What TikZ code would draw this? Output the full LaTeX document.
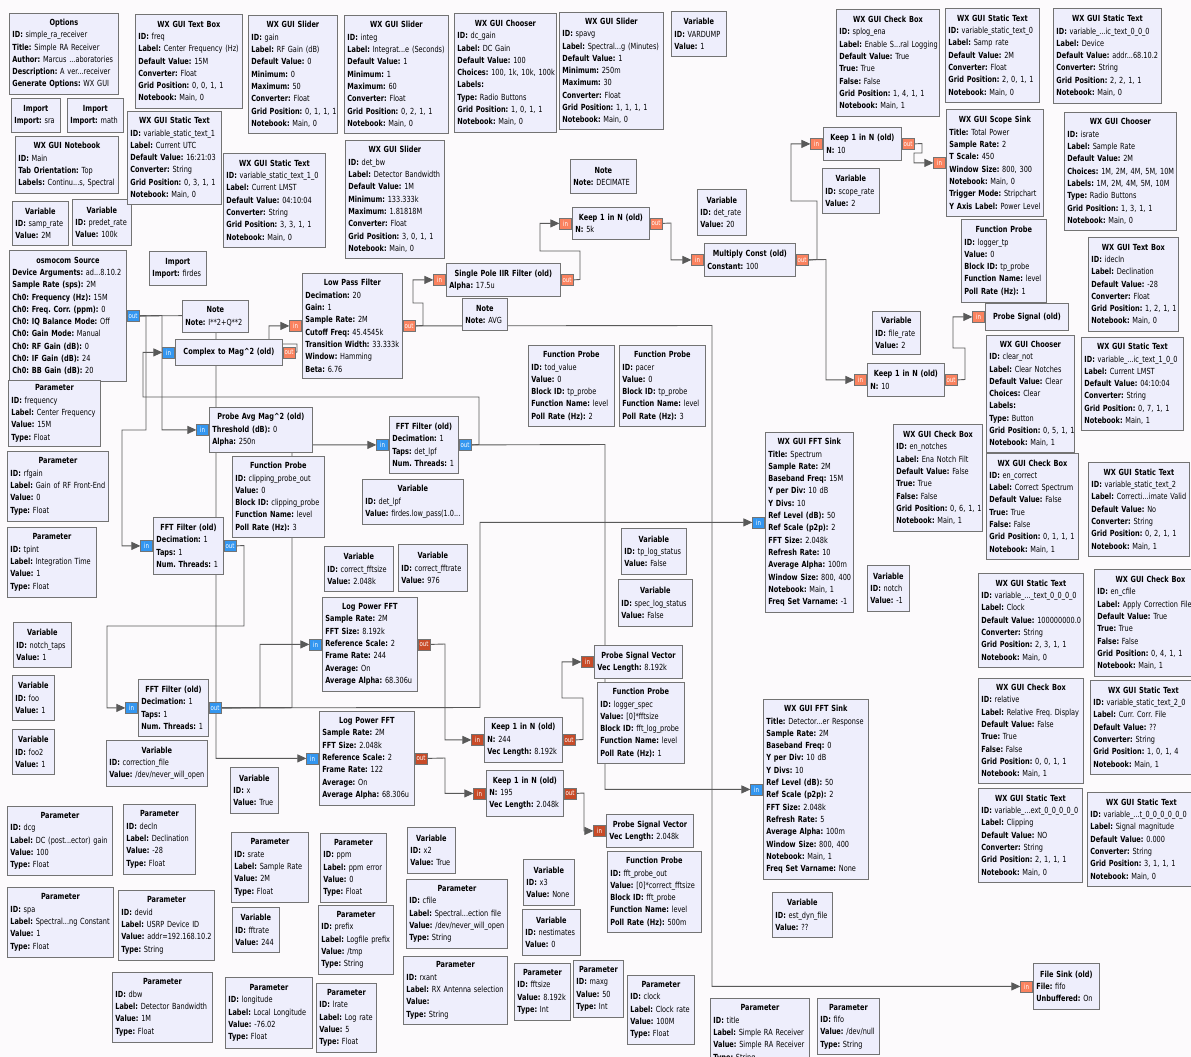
\documentclass[tikz,border=0pt]{standalone}
\usepackage{fontspec}
\newfontfamily\grcfont{DejaVu Sans}[FakeStretch=0.78]
\usetikzlibrary{positioning,arrows.meta,backgrounds}
\definecolor{canvas}{RGB}{252,250,252}
\definecolor{blkfill}{RGB}{238,238,252}
\definecolor{cplx}{RGB}{51,150,240}
\definecolor{flt}{RGB}{250,130,95}
\definecolor{vflt}{RGB}{200,75,40}
\newcommand{\hd}[1]{\leavevmode\hbox to\hsize{\hfil\textbf{#1}\hfil}}
\newcommand{\kv}[2]{\mbox{\textbf{#1:} #2}}

\begin{document}
\begin{tikzpicture}[x=1pt, y=-1pt,
    blk/.style 2 args={draw=black!55, fill=blkfill, line width=0.8pt, anchor=north west, align=left, inner xsep=3pt, inner ysep=3pt,
      minimum width=#1, minimum height=#2, text width=#1-6, font=\grcfont\fontsize{8.4}{12.3}\selectfont\frenchspacing},
    port/.style={draw=black!55, line width=0.6pt, inner sep=0pt, minimum height=11pt, minimum width=12pt,
      text=white, font=\grcfont\fontsize{7}{8}\selectfont},
    cp/.style={port, fill=cplx}, fp/.style={port, fill=flt}, vp/.style={port, fill=vflt},
    conn/.style={-{Triangle[length=9pt,width=8pt]}, draw=black!65, line width=0.9pt}
  ]
  \useasboundingbox (0,0) rectangle (1191,1057);

  % top left
  \node[blk={109}{81}] (opts) at (9,13) {\hd{Options}\\ \kv{ID}{simple\_ra\_receiver}\\ \kv{Title}{Simple RA Receiver}\\ \kv{Author}{Marcus ...aboratories}\\ \kv{Description}{A ver...receiver}\\ \kv{Generate Options}{WX GUI}};
  \node[blk={49}{34}] (imp1) at (11,98) {\hd{Import}\\ \kv{Import}{sra}};
  \node[blk={56}{34}] (imp2) at (67,98) {\hd{Import}\\ \kv{Import}{math}};
  \node[blk={103}{57}] (nb) at (15,136) {\hd{WX GUI Notebook}\\ \kv{ID}{Main}\\ \kv{Tab Orientation}{Top}\\ \kv{Labels}{Continu...s, Spectral}};
  \node[blk={56}{44}] (vsamp) at (12,201) {\hd{Variable}\\ \kv{ID}{samp\_rate}\\ \kv{Value}{2M}};
  \node[blk={59}{46}] (vpredet) at (72,199) {\hd{Variable}\\ \kv{ID}{predet\_rate}\\ \kv{Value}{100k}};
  \node[blk={117}{131}] (src) at (9,250) {\hd{osmocom Source}\\ \kv{Device Arguments}{ad...8.10.2}\\ \kv{Sample Rate (sps)}{2M}\\ \kv{Ch0: Frequency (Hz)}{15M}\\ \kv{Ch0: Freq. Corr. (ppm)}{0}\\ \kv{Ch0: IQ Balance Mode}{Off}\\ \kv{Ch0: Gain Mode}{Manual}\\ \kv{Ch0: RF Gain (dB)}{0}\\ \kv{Ch0: IF Gain (dB)}{24}\\ \kv{Ch0: BB Gain (dB)}{20}};
  \node[blk={107}{94}] (tbfreq) at (135,14) {\hd{WX GUI Text Box}\\ \kv{ID}{freq}\\ \kv{Label}{Center Frequency (Hz)}\\ \kv{Default Value}{15M}\\ \kv{Converter}{Float}\\ \kv{Grid Position}{0, 0, 1, 1}\\ \kv{Notebook}{Main, 0}};
  \node[blk={94}{93}] (st1) at (127,111) {\hd{WX GUI Static Text}\\ \kv{ID}{variable\_static\_text\_1}\\ \kv{Label}{Current UTC}\\ \kv{Default Value}{16:21:03}\\ \kv{Converter}{String}\\ \kv{Grid Position}{0, 3, 1, 1}\\ \kv{Notebook}{Main, 0}};
  \node[blk={89}{118}] (slgain) at (248,15) {\hd{WX GUI Slider}\\ \kv{ID}{gain}\\ \kv{Label}{RF Gain (dB)}\\ \kv{Default Value}{0}\\ \kv{Minimum}{0}\\ \kv{Maximum}{50}\\ \kv{Converter}{Float}\\ \kv{Grid Position}{0, 1, 1, 1}\\ \kv{Notebook}{Main, 0}};
  \node[blk={102}{94}] (st10) at (223,153) {\hd{WX GUI Static Text}\\ \kv{ID}{variable\_static\_text\_1\_0}\\ \kv{Label}{Current LMST}\\ \kv{Default Value}{04:10:04}\\ \kv{Converter}{String}\\ \kv{Grid Position}{3, 3, 1, 1}\\ \kv{Notebook}{Main, 0}};
  \node[blk={57}{34}] (impf) at (149,251) {\hd{Import}\\ \kv{Import}{firdes}};
  \node[blk={66}{32}] (note1) at (182,300) {\hd{Note}\\ \kv{Note}{I**2+Q**2}};
  \node[blk={107}{26}] (c2m) at (175,339) {\hd{Complex to Mag\textasciicircum 2 (old)}};

  % top middle
  \node[blk={104}{118}] (slinteg) at (344,15) {\hd{WX GUI Slider}\\ \kv{ID}{integ}\\ \kv{Label}{Integrat...e (Seconds)}\\ \kv{Default Value}{1}\\ \kv{Minimum}{1}\\ \kv{Maximum}{60}\\ \kv{Converter}{Float}\\ \kv{Grid Position}{0, 2, 1, 1}\\ \kv{Notebook}{Main, 0}};
  \node[blk={102}{119}] (chdc) at (454,13) {\hd{WX GUI Chooser}\\ \kv{ID}{dc\_gain}\\ \kv{Label}{DC Gain}\\ \kv{Default Value}{100}\\ \kv{Choices}{100, 1k, 10k, 100k}\\ \kv{Labels}{}\\ \kv{Type}{Radio Buttons}\\ \kv{Grid Position}{1, 0, 1, 1}\\ \kv{Notebook}{Main, 0}};
  \node[blk={104}{117}] (slspavg) at (559,12) {\hd{WX GUI Slider}\\ \kv{ID}{spavg}\\ \kv{Label}{Spectral...g (Minutes)}\\ \kv{Default Value}{1}\\ \kv{Minimum}{250m}\\ \kv{Maximum}{30}\\ \kv{Converter}{Float}\\ \kv{Grid Position}{1, 1, 1, 1}\\ \kv{Notebook}{Main, 0}};
  \node[blk={99}{118}] (sldetbw) at (345,140) {\hd{WX GUI Slider}\\ \kv{ID}{det\_bw}\\ \kv{Label}{Detector Bandwidth}\\ \kv{Default Value}{1M}\\ \kv{Minimum}{133.333k}\\ \kv{Maximum}{1.81818M}\\ \kv{Converter}{Float}\\ \kv{Grid Position}{3, 0, 1, 1}\\ \kv{Notebook}{Main, 0}};
  \node[blk={100}{105}] (lpf) at (302,273) {\hd{Low Pass Filter}\\ \kv{Decimation}{20}\\ \kv{Gain}{1}\\ \kv{Sample Rate}{2M}\\ \kv{Cutoff Freq}{45.4545k}\\ \kv{Transition Width}{33.333k}\\ \kv{Window}{Hamming}\\ \kv{Beta}{6.76}};
  \node[blk={114}{33}] (iir) at (446,263) {\hd{Single Pole IIR Filter (old)}\\ \kv{Alpha}{17.5u}};
  \node[blk={45}{32}] (noteavg) at (462,298) {\hd{Note}\\ \kv{Note}{AVG}};
  \node[blk={66}{34}] (notedec) at (570,159) {\hd{Note}\\ \kv{Note}{DECIMATE}};
  \node[blk={77}{32}] (keep5k) at (572,207) {\hd{Keep 1 in N (old)}\\ \kv{N}{5k}};
  \node[blk={55}{45}] (vvardump) at (671,11) {\hd{Variable}\\ \kv{ID}{VARDUMP}\\ \kv{Value}{1}};
  \node[blk={49}{46}] (vdetrate) at (697,189) {\hd{Variable}\\ \kv{ID}{det\_rate}\\ \kv{Value}{20}};
  \node[blk={91}{33}] (mult) at (704,243) {\hd{Multiply Const (old)}\\ \kv{Constant}{100}};
  \node[blk={78}{33}] (keepup) at (823,127) {\hd{Keep 1 in N (old)}\\ \kv{N}{10}};
  \node[blk={57}{45}] (vscope) at (822,168) {\hd{Variable}\\ \kv{ID}{scope\_rate}\\ \kv{Value}{2}};

  % top right
  \node[blk={103}{107}] (cbsplog) at (836,9) {\hd{WX GUI Check Box}\\ \kv{ID}{splog\_ena}\\ \kv{Label}{Enable S...ral Logging}\\ \kv{Default Value}{True}\\ \kv{True}{True}\\ \kv{False}{False}\\ \kv{Grid Position}{1, 4, 1, 1}\\ \kv{Notebook}{Main, 1}};
  \node[blk={94}{94}] (st0) at (945,8) {\hd{WX GUI Static Text}\\ \kv{ID}{variable\_static\_text\_0}\\ \kv{Label}{Samp rate}\\ \kv{Default Value}{2M}\\ \kv{Converter}{Float}\\ \kv{Grid Position}{2, 0, 1, 1}\\ \kv{Notebook}{Main, 0}};
  \node[blk={108}{95}] (st000) at (1053,8) {\hd{WX GUI Static Text}\\ \kv{ID}{variable\_...ic\_text\_0\_0\_0}\\ \kv{Label}{Device}\\ \kv{Default Value}{addr...68.10.2}\\ \kv{Converter}{String}\\ \kv{Grid Position}{2, 2, 1, 1}\\ \kv{Notebook}{Main, 0}};
  \node[blk={97}{107}] (scope) at (946,109) {\hd{WX GUI Scope Sink}\\ \kv{Title}{Total Power}\\ \kv{Sample Rate}{2}\\ \kv{T Scale}{450}\\ \kv{Window Size}{800, 300}\\ \kv{Notebook}{Main, 0}\\ \kv{Trigger Mode}{Stripchart}\\ \kv{Y Axis Label}{Power Level}};
  \node[blk={112}{118}] (chisrate) at (1064,112) {\hd{WX GUI Chooser}\\ \kv{ID}{israte}\\ \kv{Label}{Sample Rate}\\ \kv{Default Value}{2M}\\ \kv{Choices}{1M, 2M, 4M, 5M, 10M}\\ \kv{Labels}{1M, 2M, 4M, 5M, 10M}\\ \kv{Type}{Radio Buttons}\\ \kv{Grid Position}{1, 3, 1, 1}\\ \kv{Notebook}{Main, 0}};
  \node[blk={85}{83}] (fploggertp) at (961,219) {\hd{Function Probe}\\ \kv{ID}{logger\_tp}\\ \kv{Value}{0}\\ \kv{Block ID}{tp\_probe}\\ \kv{Function Name}{level}\\ \kv{Poll Rate (Hz)}{1}};
  \node[blk={90}{94}] (tbdecln) at (1088,237) {\hd{WX GUI Text Box}\\ \kv{ID}{idecln}\\ \kv{Label}{Declination}\\ \kv{Default Value}{-28}\\ \kv{Converter}{Float}\\ \kv{Grid Position}{1, 2, 1, 1}\\ \kv{Notebook}{Main, 0}};
  \node[blk={48}{43}] (vfilerate) at (872,311) {\hd{Variable}\\ \kv{ID}{file\_rate}\\ \kv{Value}{2}};
  \node[blk={83}{27}] (psig) at (985,303) {\hd{Probe Signal (old)}};
  \node[blk={88}{117}] (chclear) at (986,335) {\hd{WX GUI Chooser}\\ \kv{ID}{clear\_not}\\ \kv{Label}{Clear Notches}\\ \kv{Default Value}{Clear}\\ \kv{Choices}{Clear}\\ \kv{Labels}{}\\ \kv{Type}{Button}\\ \kv{Grid Position}{0, 5, 1, 1}\\ \kv{Notebook}{Main, 1}};
  \node[blk={102}{93}] (st100) at (1081,337) {\hd{WX GUI Static Text}\\ \kv{ID}{variable\_...ic\_text\_1\_0\_0}\\ \kv{Label}{Current LMST}\\ \kv{Default Value}{04:10:04}\\ \kv{Converter}{String}\\ \kv{Grid Position}{0, 7, 1, 1}\\ \kv{Notebook}{Main, 1}};
  \node[blk={77}{33}] (keeplo) at (867,363) {\hd{Keep 1 in N (old)}\\ \kv{N}{10}};

  % middle
  \node[blk={86}{81}] (fptod) at (528,345) {\hd{Function Probe}\\ \kv{ID}{tod\_value}\\ \kv{Value}{0}\\ \kv{Block ID}{tp\_probe}\\ \kv{Function Name}{level}\\ \kv{Poll Rate (Hz)}{2}};
  \node[blk={86}{81}] (fppacer) at (619,345) {\hd{Function Probe}\\ \kv{ID}{pacer}\\ \kv{Value}{0}\\ \kv{Block ID}{tp\_probe}\\ \kv{Function Name}{level}\\ \kv{Poll Rate (Hz)}{3}};
  \node[blk={89}{107}] (cbnotch) at (893,424) {\hd{WX GUI Check Box}\\ \kv{ID}{en\_notches}\\ \kv{Label}{Ena Notch Filt}\\ \kv{Default Value}{False}\\ \kv{True}{True}\\ \kv{False}{False}\\ \kv{Grid Position}{0, 6, 1, 1}\\ \kv{Notebook}{Main, 1}};
  \node[blk={92}{106}] (cbcorr) at (986,453) {\hd{WX GUI Check Box}\\ \kv{ID}{en\_correct}\\ \kv{Label}{Correct Spectrum}\\ \kv{Default Value}{False}\\ \kv{True}{True}\\ \kv{False}{False}\\ \kv{Grid Position}{0, 1, 1, 1}\\ \kv{Notebook}{Main, 1}};
  \node[blk={101}{94}] (st2) at (1088,462) {\hd{WX GUI Static Text}\\ \kv{ID}{variable\_static\_text\_2}\\ \kv{Label}{Correcti...imate Valid}\\ \kv{Default Value}{No}\\ \kv{Converter}{String}\\ \kv{Grid Position}{0, 2, 1, 1}\\ \kv{Notebook}{Main, 1}};
  \node[blk={42}{46}] (vnotch) at (867,565) {\hd{Variable}\\ \kv{ID}{notch}\\ \kv{Value}{-1}};
  \node[blk={105}{94}] (st0000) at (978,573) {\hd{WX GUI Static Text}\\ \kv{ID}{variable\_...\_text\_0\_0\_0\_0}\\ \kv{Label}{Clock}\\ \kv{Default Value}{100000000.0}\\ \kv{Converter}{String}\\ \kv{Grid Position}{2, 3, 1, 1}\\ \kv{Notebook}{Main, 0}};
  \node[blk={112}{107}] (cbcfile) at (1094,569) {\hd{WX GUI Check Box}\\ \kv{ID}{en\_cfile}\\ \kv{Label}{Apply Correction File}\\ \kv{Default Value}{True}\\ \kv{True}{True}\\ \kv{False}{False}\\ \kv{Grid Position}{0, 4, 1, 1}\\ \kv{Notebook}{Main, 1}};
  \node[blk={105}{105}] (cbrel) at (978,678) {\hd{WX GUI Check Box}\\ \kv{ID}{relative}\\ \kv{Label}{Relative Freq. Display}\\ \kv{Default Value}{False}\\ \kv{True}{True}\\ \kv{False}{False}\\ \kv{Grid Position}{0, 0, 1, 1}\\ \kv{Notebook}{Main, 1}};
  \node[blk={106}{94}] (st20) at (1090,680) {\hd{WX GUI Static Text}\\ \kv{ID}{variable\_static\_text\_2\_0}\\ \kv{Label}{Curr. Corr. File}\\ \kv{Default Value}{??}\\ \kv{Converter}{String}\\ \kv{Grid Position}{1, 0, 1, 4}\\ \kv{Notebook}{Main, 1}};
  \node[blk={104}{94}] (stclip) at (978,788) {\hd{WX GUI Static Text}\\ \kv{ID}{variable\_...ext\_0\_0\_0\_0\_0}\\ \kv{Label}{Clipping}\\ \kv{Default Value}{NO}\\ \kv{Converter}{String}\\ \kv{Grid Position}{2, 1, 1, 1}\\ \kv{Notebook}{Main, 0}};
  \node[blk={108}{94}] (stsig) at (1087,792) {\hd{WX GUI Static Text}\\ \kv{ID}{variable\_...t\_0\_0\_0\_0\_0\_0}\\ \kv{Label}{Signal magnitude}\\ \kv{Default Value}{0.000}\\ \kv{Converter}{String}\\ \kv{Grid Position}{3, 1, 1, 1}\\ \kv{Notebook}{Main, 0}};
  \node[blk={66}{46}] (fsink) at (1033,963) {\hd{File Sink (old)}\\ \kv{File}{fifo}\\ \kv{Unbuffered}{On}};

  % left column
  \node[blk={92}{66}] (pfreq) at (8,380) {\hd{Parameter}\\ \kv{ID}{frequency}\\ \kv{Label}{Center Frequency}\\ \kv{Value}{15M}\\ \kv{Type}{Float}};
  \node[blk={101}{70}] (prf) at (7,451) {\hd{Parameter}\\ \kv{ID}{rfgain}\\ \kv{Label}{Gain of RF Front-End}\\ \kv{Value}{0}\\ \kv{Type}{Float}};
  \node[blk={89}{70}] (ptpint) at (7,527) {\hd{Parameter}\\ \kv{ID}{tpint}\\ \kv{Label}{Integration Time}\\ \kv{Value}{1}\\ \kv{Type}{Float}};
  \node[blk={58}{45}] (vnotchtaps) at (13,622) {\hd{Variable}\\ \kv{ID}{notch\_taps}\\ \kv{Value}{1}};
  \node[blk={42}{45}] (vfoo) at (12,675) {\hd{Variable}\\ \kv{ID}{foo}\\ \kv{Value}{1}};
  \node[blk={42}{45}] (vfoo2) at (12,729) {\hd{Variable}\\ \kv{ID}{foo2}\\ \kv{Value}{1}};

  % signal chain
  \node[blk={103}{45}] (pavg) at (209,407) {\hd{Probe Avg Mag\textasciicircum 2 (old)}\\ \kv{Threshold (dB)}{0}\\ \kv{Alpha}{250n}};
  \node[blk={92}{81}] (fpclip) at (232,456) {\hd{Function Probe}\\ \kv{ID}{clipping\_probe\_out}\\ \kv{Value}{0}\\ \kv{Block ID}{clipping\_probe}\\ \kv{Function Name}{level}\\ \kv{Poll Rate (Hz)}{3}};
  \node[blk={70}{57}] (fft1) at (153,517) {\hd{FFT Filter (old)}\\ \kv{Decimation}{1}\\ \kv{Taps}{1}\\ \kv{Num. Threads}{1}};
  \node[blk={70}{57}] (fft2) at (138,679) {\hd{FFT Filter (old)}\\ \kv{Decimation}{1}\\ \kv{Taps}{1}\\ \kv{Num. Threads}{1}};
  \node[blk={69}{57}] (fftdet) at (389,416) {\hd{FFT Filter (old)}\\ \kv{Decimation}{1}\\ \kv{Taps}{det\_lpf}\\ \kv{Num. Threads}{1}};
  \node[blk={101}{45}] (vdetlpf) at (362,479) {\hd{Variable}\\ \kv{ID}{det\_lpf}\\ \kv{Value}{firdes.low\_pass(1.0...}};
  \node[blk={69}{45}] (vcfs) at (324,546) {\hd{Variable}\\ \kv{ID}{correct\_fftsize}\\ \kv{Value}{2.048k}};
  \node[blk={69}{47}] (vcfr) at (398,544) {\hd{Variable}\\ \kv{ID}{correct\_fftrate}\\ \kv{Value}{976}};
  \node[blk={95}{94}] (lpfft1) at (322,597) {\hd{Log Power FFT}\\ \kv{Sample Rate}{2M}\\ \kv{FFT Size}{8.192k}\\ \kv{Reference Scale}{2}\\ \kv{Frame Rate}{244}\\ \kv{Average}{On}\\ \kv{Average Alpha}{68.306u}};
  \node[blk={88}{180}] (fftspec) at (765,432) {\hd{WX GUI FFT Sink}\\ \kv{Title}{Spectrum}\\ \kv{Sample Rate}{2M}\\ \kv{Baseband Freq}{15M}\\ \kv{Y per Div}{10 dB}\\ \kv{Y Divs}{10}\\ \kv{Ref Level (dB)}{50}\\ \kv{Ref Scale (p2p)}{2}\\ \kv{FFT Size}{2.048k}\\ \kv{Refresh Rate}{10}\\ \kv{Average Alpha}{100m}\\ \kv{Window Size}{800, 400}\\ \kv{Notebook}{Main, 1}\\ \kv{Freq Set Varname}{-1}};
  \node[blk={65}{46}] (vtplog) at (621,528) {\hd{Variable}\\ \kv{ID}{tp\_log\_status}\\ \kv{Value}{False}};
  \node[blk={74}{47}] (vspeclog) at (618,579) {\hd{Variable}\\ \kv{ID}{spec\_log\_status}\\ \kv{Value}{False}};
  \node[blk={88}{33}] (psv1) at (594,645) {\hd{Probe Signal Vector}\\ \kv{Vec Length}{8.192k}};
  \node[blk={87}{81}] (fplogspec) at (597,682) {\hd{Function Probe}\\ \kv{ID}{logger\_spec}\\ \kv{Value}{[0]*fftsize}\\ \kv{Block ID}{fft\_log\_probe}\\ \kv{Function Name}{level}\\ \kv{Poll Rate (Hz)}{1}};
  \node[blk={95}{94}] (lpfft2) at (319,711) {\hd{Log Power FFT}\\ \kv{Sample Rate}{2M}\\ \kv{FFT Size}{2.048k}\\ \kv{Reference Scale}{2}\\ \kv{Frame Rate}{122}\\ \kv{Average}{On}\\ \kv{Average Alpha}{68.306u}};
  \node[blk={78}{45}] (keep244) at (484,717) {\hd{Keep 1 in N (old)}\\ \kv{N}{244}\\ \kv{Vec Length}{8.192k}};
  \node[blk={77}{46}] (keep195) at (486,770) {\hd{Keep 1 in N (old)}\\ \kv{N}{195}\\ \kv{Vec Length}{2.048k}};
  \node[blk={87}{33}] (psv2) at (606,814) {\hd{Probe Signal Vector}\\ \kv{Vec Length}{2.048k}};
  \node[blk={94}{81}] (fpfft) at (607,851) {\hd{Function Probe}\\ \kv{ID}{fft\_probe\_out}\\ \kv{Value}{[0]*correct\_fftsize}\\ \kv{Block ID}{fft\_probe}\\ \kv{Function Name}{level}\\ \kv{Poll Rate (Hz)}{500m}};
  \node[blk={105}{180}] (fftdetsink) at (763,699) {\hd{WX GUI FFT Sink}\\ \kv{Title}{Detector...er Response}\\ \kv{Sample Rate}{2M}\\ \kv{Baseband Freq}{0}\\ \kv{Y per Div}{10 dB}\\ \kv{Y Divs}{10}\\ \kv{Ref Level (dB)}{50}\\ \kv{Ref Scale (p2p)}{2}\\ \kv{FFT Size}{2.048k}\\ \kv{Refresh Rate}{5}\\ \kv{Average Alpha}{100m}\\ \kv{Window Size}{800, 400}\\ \kv{Notebook}{Main, 1}\\ \kv{Freq Set Varname}{None}};
  \node[blk={60}{45}] (vestdyn) at (772,892) {\hd{Variable}\\ \kv{ID}{est\_dyn\_file}\\ \kv{Value}{??}};

  % bottom
  \node[blk={67}{69}] (pclock) at (627,975) {\hd{Parameter}\\ \kv{ID}{clock}\\ \kv{Label}{Clock rate}\\ \kv{Value}{100M}\\ \kv{Type}{Float}};
  \node[blk={99}{70}] (ptitle) at (710,998) {\hd{Parameter}\\ \kv{ID}{title}\\ \kv{Label}{Simple RA Receiver}\\ \kv{Value}{Simple RA Receiver}\\ \kv{Type}{String}};
  \node[blk={62}{56}] (pfifo) at (817,998) {\hd{Parameter}\\ \kv{ID}{fifo}\\ \kv{Value}{/dev/null}\\ \kv{Type}{String}};
  \node[blk={50}{57}] (pmaxg) at (573,960) {\hd{Parameter}\\ \kv{ID}{maxg}\\ \kv{Value}{50}\\ \kv{Type}{Int}};
  \node[blk={56}{57}] (pfftsize) at (514,963) {\hd{Parameter}\\ \kv{ID}{fftsize}\\ \kv{Value}{8.192k}\\ \kv{Type}{Int}};
  \node[blk={51}{46}] (vx3) at (523,859) {\hd{Variable}\\ \kv{ID}{x3}\\ \kv{Value}{None}};
  \node[blk={58}{46}] (vnest) at (522,909) {\hd{Variable}\\ \kv{ID}{nestimates}\\ \kv{Value}{0}};
  \node[blk={48}{46}] (vx2) at (407,827) {\hd{Variable}\\ \kv{ID}{x2}\\ \kv{Value}{True}};
  \node[blk={101}{69}] (pcfile) at (406,879) {\hd{Parameter}\\ \kv{ID}{cfile}\\ \kv{Label}{Spectral...ection file}\\ \kv{Value}{/dev/never\_will\_open}\\ \kv{Type}{String}};
  \node[blk={104}{68}] (prxant) at (403,956) {\hd{Parameter}\\ \kv{ID}{rxant}\\ \kv{Label}{RX Antenna selection}\\ \kv{Value}{}\\ \kv{Type}{String}};
  \node[blk={66}{69}] (pppm) at (320,833) {\hd{Parameter}\\ \kv{ID}{ppm}\\ \kv{Label}{ppm error}\\ \kv{Value}{0}\\ \kv{Type}{Float}};
  \node[blk={75}{69}] (pprefix) at (318,905) {\hd{Parameter}\\ \kv{ID}{prefix}\\ \kv{Label}{Logfile prefix}\\ \kv{Value}{/tmp}\\ \kv{Type}{String}};
  \node[blk={60}{69}] (plrate) at (316,983) {\hd{Parameter}\\ \kv{ID}{lrate}\\ \kv{Label}{Log rate}\\ \kv{Value}{5}\\ \kv{Type}{Float}};
  \node[blk={101}{46}] (vcorrfile) at (106,740) {\hd{Variable}\\ \kv{ID}{correction\_file}\\ \kv{Value}{/dev/never\_will\_open}};
  \node[blk={48}{46}] (vx) at (230,767) {\hd{Variable}\\ \kv{ID}{x}\\ \kv{Value}{True}};
  \node[blk={105}{69}] (pdcg) at (7,806) {\hd{Parameter}\\ \kv{ID}{dcg}\\ \kv{Label}{DC (post...ector) gain}\\ \kv{Value}{100}\\ \kv{Type}{Float}};
  \node[blk={72}{70}] (pdecln) at (123,804) {\hd{Parameter}\\ \kv{ID}{decln}\\ \kv{Label}{Declination}\\ \kv{Value}{-28}\\ \kv{Type}{Float}};
  \node[blk={77}{70}] (psrate) at (231,832) {\hd{Parameter}\\ \kv{ID}{srate}\\ \kv{Label}{Sample Rate}\\ \kv{Value}{2M}\\ \kv{Type}{Float}};
  \node[blk={47}{45}] (vfftrate) at (232,907) {\hd{Variable}\\ \kv{ID}{fftrate}\\ \kv{Value}{244}};
  \node[blk={106}{70}] (pspa) at (7,887) {\hd{Parameter}\\ \kv{ID}{spa}\\ \kv{Label}{Spectral...ng Constant}\\ \kv{Value}{1}\\ \kv{Type}{Float}};
  \node[blk={96}{70}] (pdevid) at (118,890) {\hd{Parameter}\\ \kv{ID}{devid}\\ \kv{Label}{USRP Device ID}\\ \kv{Value}{addr=192.168.10.2}\\ \kv{Type}{String}};
  \node[blk={100}{70}] (pdbw) at (112,972) {\hd{Parameter}\\ \kv{ID}{dbw}\\ \kv{Label}{Detector Bandwidth}\\ \kv{Value}{1M}\\ \kv{Type}{Float}};
  \node[blk={87}{71}] (plong) at (225,977) {\hd{Parameter}\\ \kv{ID}{longitude}\\ \kv{Label}{Local Longitude}\\ \kv{Value}{-76.02}\\ \kv{Type}{Float}};

  % ports
  \node[cp, right=0pt of src] (src-out) {out};
  \node[cp, left=0pt of c2m] (c2m-in) {in};
  \node[fp, right=0pt of c2m] (c2m-out) {out};
  \node[fp, left=0pt of lpf] (lpf-in) {in};
  \node[fp, right=0pt of lpf] (lpf-out) {out};
  \node[fp, left=0pt of iir] (iir-in) {in};
  \node[fp, right=0pt of iir] (iir-out) {out};
  \node[fp, left=0pt of keep5k] (keep5k-in) {in};
  \node[fp, right=0pt of keep5k] (keep5k-out) {out};
  \node[fp, left=0pt of mult] (mult-in) {in};
  \node[fp, right=0pt of mult] (mult-out) {out};
  \node[fp, left=0pt of keepup] (keepup-in) {in};
  \node[fp, right=0pt of keepup] (keepup-out) {out};
  \node[fp, left=0pt of keeplo] (keeplo-in) {in};
  \node[fp, right=0pt of keeplo] (keeplo-out) {out};
  \node[fp, left=0pt of scope] (scope-in) {in};
  \node[fp, left=0pt of psig] (psig-in) {in};
  \node[fp, left=0pt of fsink] (fsink-in) {in};
  \node[cp, left=0pt of pavg] (pavg-in) {in};
  \node[cp, left=0pt of fft1] (fft1-in) {in};
  \node[cp, right=0pt of fft1] (fft1-out) {out};
  \node[cp, left=0pt of fft2] (fft2-in) {in};
  \node[cp, right=0pt of fft2] (fft2-out) {out};
  \node[cp, left=0pt of fftdet] (fftdet-in) {in};
  \node[cp, right=0pt of fftdet] (fftdet-out) {out};
  \node[cp, left=0pt of lpfft1] (lpfft1-in) {in};
  \node[vp, right=0pt of lpfft1] (lpfft1-out) {out};
  \node[cp, left=0pt of lpfft2] (lpfft2-in) {in};
  \node[vp, right=0pt of lpfft2] (lpfft2-out) {out};
  \node[vp, left=0pt of keep244] (keep244-in) {in};
  \node[vp, right=0pt of keep244] (keep244-out) {out};
  \node[vp, left=0pt of keep195] (keep195-in) {in};
  \node[vp, right=0pt of keep195] (keep195-out) {out};
  \node[vp, left=0pt of psv1] (psv1-in) {in};
  \node[vp, left=0pt of psv2] (psv2-in) {in};
  \node[cp, left=0pt of fftspec] (fftspec-in) {in};
  \node[cp, left=0pt of fftdetsink] (fftdetsink-in) {in};

  % connections, behind the blocks
  \begin{pgfonlayer}{background}
    \fill[canvas] (0,0) rectangle (1191,1057);
    \draw[conn] (src-out.east) -- (162,315.5) |- (pavg-in.west);
    \draw[conn] (src-out.east) -- (146,315.5) -- (146,430) -- (122,430) |- (fft1-in.west);
    \draw[conn] (src-out.east) -- (216,315.5) |- (lpfft2-in.west);
    \draw[conn] (fftdet-out.east) -- (479,444.5) -- (479,397) -- (143,397) |- (c2m-in.west);
    \draw[conn] (c2m-out.east) -- (297,352) -- (297,344) -- (269,344) |- (lpf-in.west);
    \draw[conn] (lpf-out.east) -- (423,325.5) -- (423,303) -- (413,303) |- (iir-in.west);
    \draw[conn] (lpf-out.east) -- (712,325.5) |- (fsink-in.west);
    \draw[conn] (iir-out.east) -- (580,279.5) -- (580,251) -- (540,251) |- (keep5k-in.west);
    \draw[conn] (keep5k-out.east) -- (671,223) |- (mult-in.west);
    \draw[conn] (mult-out.east) -- (817,259.5) -- (817,201) -- (791,201) |- (keepup-in.west);
    \draw[conn] (mult-out.east) -- (826,259.5) |- (keeplo-in.west);
    \draw[conn] (keepup-out.east) -- (922,143.5) -- (922,153) -- (914,153) |- (scope-in.west);
    \draw[conn] (keeplo-out.east) -- (965,379.5) -- (965,348) -- (953,348) |- (psig-in.west);
    \draw[conn] (fft1-out.east) -- (244,545.5) -- (244,626) -- (107,626) |- (fft2-in.west);
    \draw[conn] (fft2-out.east) -- (292,707.5) |- (fftdet-in.west);
    \draw[conn] (fft2-out.east) -- (260,707.5) |- (lpfft1-in.west);
    \draw[conn] (fft2-out.east) -- (480,707.5) |- (fftspec-in.west);
    \draw[conn] (fftdet-out.east) -- (605,444.5) |- (fftdetsink-in.west);
    \draw[conn] (lpfft1-out.east) -- (445,644) |- (keep244-in.west);
    \draw[conn] (lpfft2-out.east) -- (445,758) |- (keep195-in.west);
    \draw[conn] (keep244-out.east) -- (583,739.5) -- (583,698) -- (562,698) |- (psv1-in.west);
    \draw[conn] (keep195-out.east) -- (584,793) |- (psv2-in.west);
  \end{pgfonlayer}
\end{tikzpicture}
\end{document}
